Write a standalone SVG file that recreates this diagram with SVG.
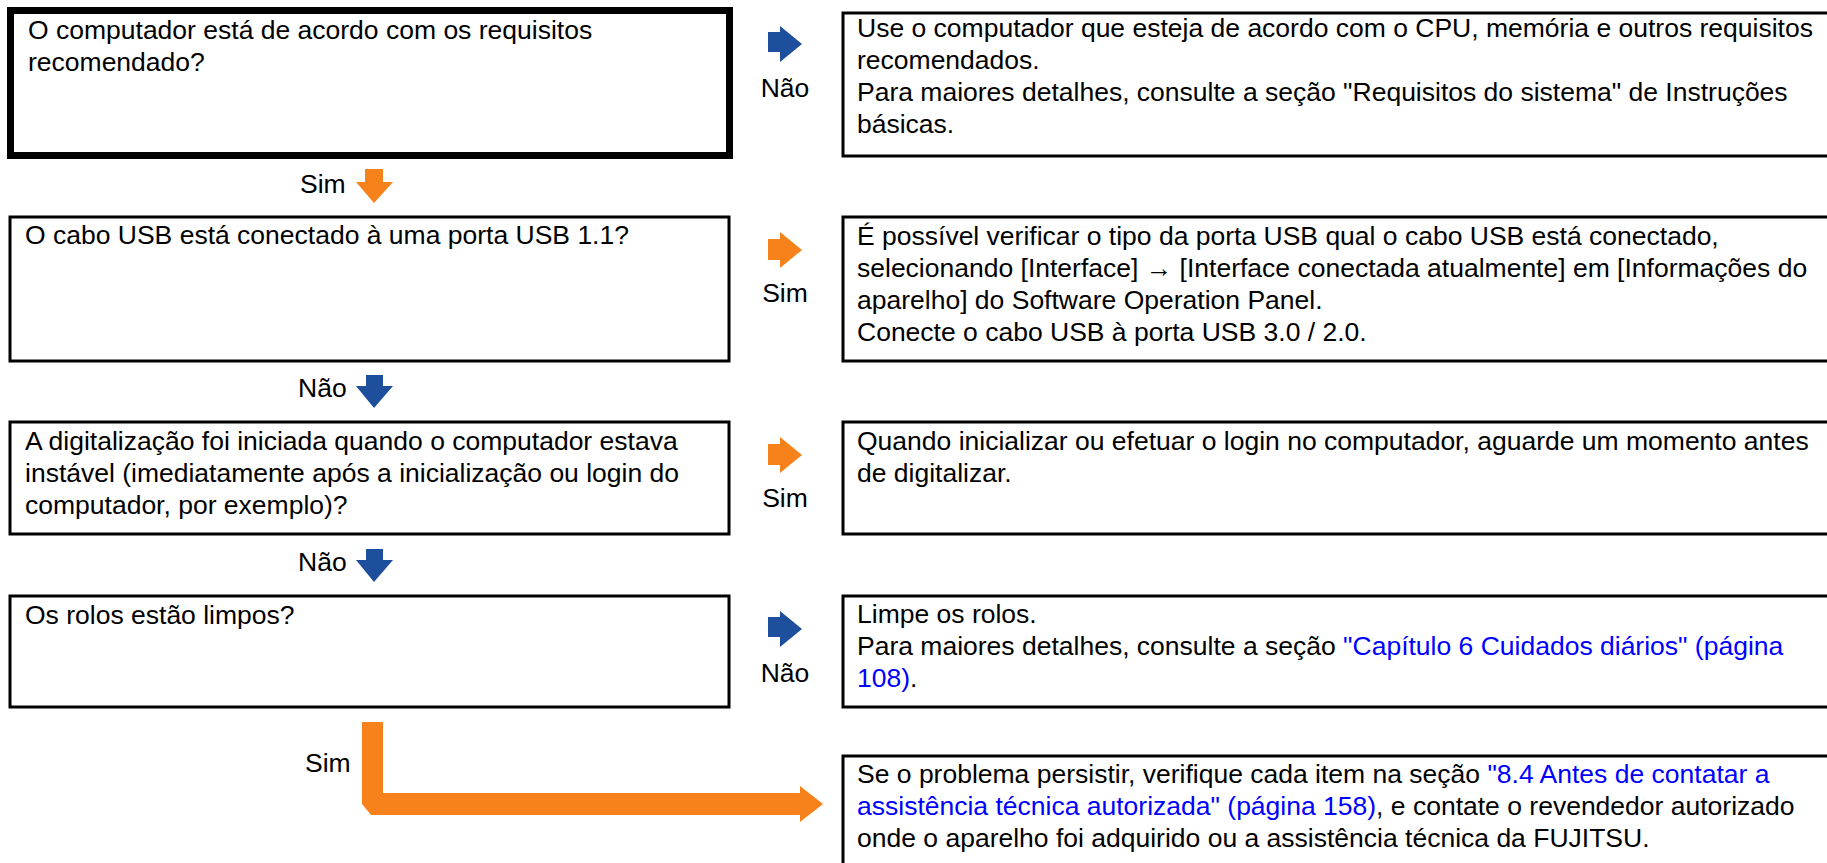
<svg xmlns="http://www.w3.org/2000/svg" width="1827" height="863" viewBox="0 0 1827 863">
<style>
  text { font-family: "Liberation Sans", Arial, "DejaVu Sans", sans-serif; font-size: 26.5px; fill: #000; }
  .box { fill: #fff; stroke: #000; stroke-width: 3; }
  .thick { fill: #fff; stroke: #000; stroke-width: 7; }
  .lnk { fill: #0000ff; }
  .or { fill: #f7821b; }
  .bl { fill: #1d4f9c; }
  .lbl { text-anchor: middle; }
</style>
<rect width="1827" height="863" fill="#fff"/>

<g id="q1">
  <rect class="thick" x="10.5" y="10.5" width="719" height="145"/>
  <text x="28" y="39">O computador está de acordo com os requisitos</text>
  <text x="28" y="71">recomendado?</text>
</g>
<g id="a1">
  <rect class="box" x="843" y="13" width="1000" height="143"/>
  <text x="857" y="37">Use o computador que esteja de acordo com o CPU, memória e outros requisitos</text>
  <text x="857" y="69">recomendados.</text>
  <text x="857" y="101">Para maiores detalhes, consulte a seção "Requisitos do sistema" de Instruções</text>
  <text x="857" y="133">básicas.</text>
</g>

<g id="q2">
  <rect class="box" x="10" y="217" width="719" height="144"/>
  <text x="25" y="244">O cabo USB está conectado à uma porta USB 1.1?</text>
</g>
<g id="a2">
  <rect class="box" x="843" y="217" width="1000" height="144"/>
  <text x="857" y="245">É possível verificar o tipo da porta USB qual o cabo USB está conectado,</text>
  <text x="857" y="277">selecionando [Interface] → [Interface conectada atualmente] em [Informações do</text>
  <text x="857" y="309">aparelho] do Software Operation Panel.</text>
  <text x="857" y="341">Conecte o cabo USB à porta USB 3.0 / 2.0.</text>
</g>

<g id="q3">
  <rect class="box" x="10" y="422" width="719" height="112"/>
  <text x="25" y="450">A digitalização foi iniciada quando o computador estava</text>
  <text x="25" y="482">instável (imediatamente após a inicialização ou login do</text>
  <text x="25" y="514">computador, por exemplo)?</text>
</g>
<g id="a3">
  <rect class="box" x="843" y="422" width="1000" height="112"/>
  <text x="857" y="450">Quando inicializar ou efetuar o login no computador, aguarde um momento antes</text>
  <text x="857" y="482">de digitalizar.</text>
</g>

<g id="q4">
  <rect class="box" x="10" y="596" width="719" height="111"/>
  <text x="25" y="624">Os rolos estão limpos?</text>
</g>
<g id="a4">
  <rect class="box" x="843" y="596" width="1000" height="111"/>
  <text x="857" y="623">Limpe os rolos.</text>
  <text x="857" y="655">Para maiores detalhes, consulte a seção <tspan class="lnk">"Capítulo 6 Cuidados diários" (página</tspan></text>
  <text x="857" y="687"><tspan class="lnk">108)</tspan>.</text>
</g>

<g id="final">
  <rect class="box" x="843" y="756" width="1000" height="130"/>
  <text x="857" y="783">Se o problema persistir, verifique cada item na seção <tspan class="lnk">"8.4 Antes de contatar a</tspan></text>
  <text x="857" y="815"><tspan class="lnk">assistência técnica autorizada" (página 158)</tspan>, e contate o revendedor autorizado</text>
  <text x="857" y="847">onde o aparelho foi adquirido ou a assistência técnica da FUJITSU.</text>
</g>

<g id="connectors">
  <!-- q1 -> a1 (Não) -->
  <polygon class="bl" points="768,32 780,32 780,26 802,44 780,62 780,52 768,52"/>
  <text class="lbl" x="785" y="97">Não</text>
  <!-- q1 -> q2 (Sim) -->
  <polygon class="or" points="365,169 383,169 383,182 393,182 374,203 356,182 365,182"/>
  <text x="300" y="193">Sim</text>
  <!-- q2 -> a2 (Sim) -->
  <polygon class="or" points="768,239 780,239 780,232 802,250 780,268 780,260 768,260"/>
  <text class="lbl" x="785" y="302">Sim</text>
  <!-- q2 -> q3 (Não) -->
  <polygon class="bl" points="366,375 383,375 383,386 393,386 374,408 356,386 366,386"/>
  <text x="298" y="397">Não</text>
  <!-- q3 -> a3 (Sim) -->
  <polygon class="or" points="768,444 780,444 780,437 802,455 780,473 780,465 768,465"/>
  <text class="lbl" x="785" y="507">Sim</text>
  <!-- q3 -> q4 (Não) -->
  <polygon class="bl" points="366,549 383,549 383,560 393,560 374,582 356,560 366,560"/>
  <text x="298" y="571">Não</text>
  <!-- q4 -> a4 (Não) -->
  <polygon class="bl" points="768,617 780,617 780,611 802,629 780,647 780,637 768,637"/>
  <text class="lbl" x="785" y="682">Não</text>
  <!-- q4 -> final (Sim) -->
  <polygon class="or" points="362,722 383,722 383,793 800,793 800,786 823,804 800,822 800,815 371,815 362,804"/>
  <text x="305" y="772">Sim</text>
</g>
</svg>
